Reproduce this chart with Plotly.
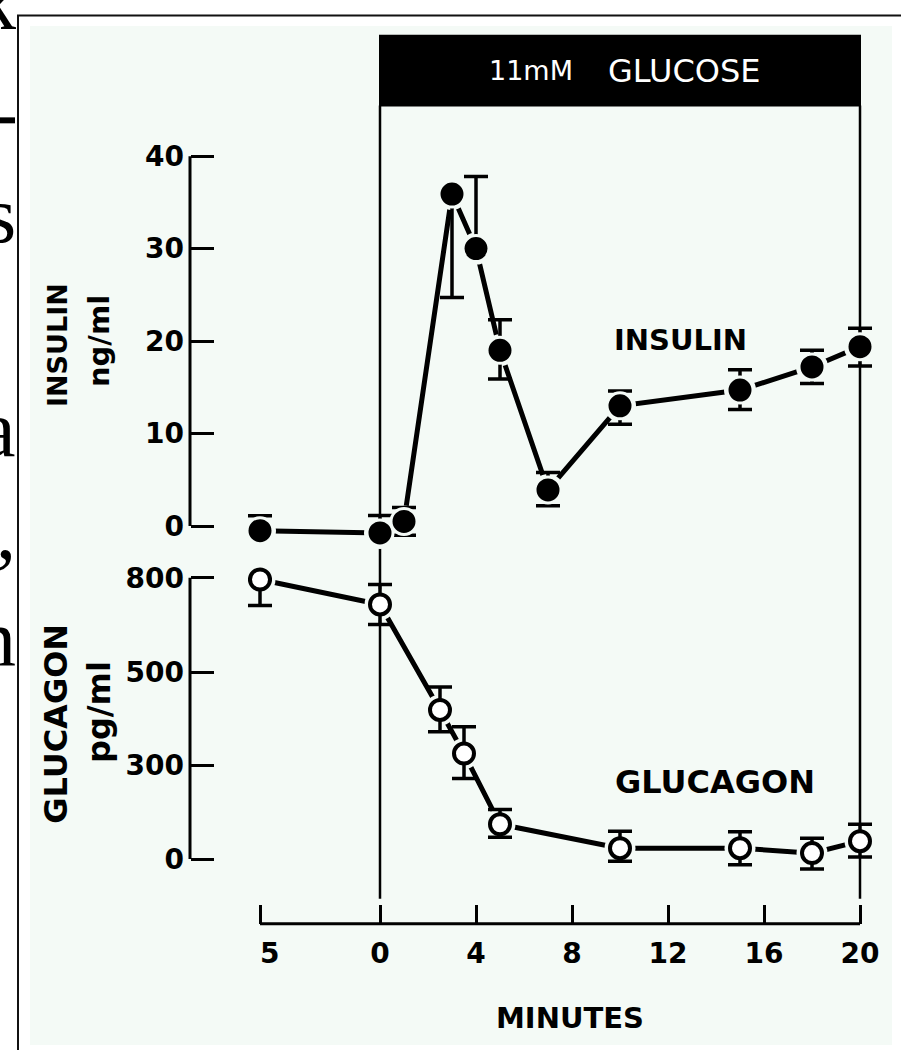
import plotly.graph_objects as go

W, H = 901, 1050

# ---------------- data ----------------
minutes_insulin = [-5, 0, 1, 3, 4, 5, 7, 10, 15, 18, 20]
insulin = [-0.5, -0.75, 0.5, 35.9, 30.0, 19.0, 3.9, 13.0, 14.7, 17.2, 19.4]
insulin_err_plus = [1.6, 1.9, 1.5, 0, 7.8, 3.3, 1.9, 1.6, 2.2, 1.8, 2.0]
insulin_err_minus = [0, 0, 1.5, 11.2, 0, 3.1, 1.7, 2.0, 2.1, 1.8, 2.1]

minutes_glucagon = [-5, 0, 2.5, 3.5, 5, 10, 15, 18, 20]
glucagon = [795, 724, 424, 300, 99, 31, 31, 17, 51]
glucagon_err_plus = [0, 57, 65, 76, 42, 48, 47, 42, 48]
glucagon_err_minus = [74, 57, 62, 71, 37, 37, 47, 45, 45]

x_tick_vals = [-5, 0, 4, 8, 12, 16, 20]
x_tick_text = ["\u20075", "0", "4", "8", "12", "16", "20"]
insulin_tick_vals = [0, 10, 20, 30, 40]
glucagon_tick_vals = [0, 266, 531, 800]
glucagon_tick_text = ["0", "300", "500", "800"]

glucose_period = [0, 20]

# ---------------- layout helpers ----------------
FONT = "DejaVu Sans"
TINT = "#f4faf6"


def fx(p):
    return p / W


def fy(p):
    return 1 - p / H


def domain(v0, p0, v1, p1, lo, hi, vertical):
    k = (p1 - p0) / (v1 - v0)
    a = p0 + (lo - v0) * k
    b = p0 + (hi - v0) * k
    if vertical:
        return sorted([fy(a), fy(b)])
    return sorted([fx(a), fx(b)])


X_RANGE = [-6.5, 21.5]
INS_RANGE = [-4, 43]
GLU_RANGE = [-90, 830]
x_dom = domain(-5, 260, 20, 860, X_RANGE[0], X_RANGE[1], False)
ins_dom = domain(0, 523, 40, 151, INS_RANGE[0], INS_RANGE[1], True)
glu_dom = domain(0, 858, 800, 575, GLU_RANGE[0], GLU_RANGE[1], True)

AXIS_X_PX = 190
XAXIS_Y_PX = 923

fig = go.Figure()

# connecting lines
fig.add_trace(go.Scatter(x=minutes_insulin, y=insulin, mode="lines",
                         line=dict(color="black", width=5), yaxis="y",
                         hoverinfo="skip"))
fig.add_trace(go.Scatter(x=minutes_glucagon, y=glucagon, mode="lines",
                         line=dict(color="black", width=5), yaxis="y2",
                         hoverinfo="skip"))
# pale halos around markers
fig.add_trace(go.Scatter(x=minutes_insulin, y=insulin, mode="markers",
                         marker=dict(color=TINT, size=32), yaxis="y",
                         cliponaxis=False, hoverinfo="skip"))
fig.add_trace(go.Scatter(x=minutes_glucagon, y=glucagon, mode="markers",
                         marker=dict(color=TINT, size=31), yaxis="y2",
                         cliponaxis=False, hoverinfo="skip"))
# markers with error bars
fig.add_trace(go.Scatter(
    x=minutes_insulin, y=insulin, mode="markers", yaxis="y", name="INSULIN",
    marker=dict(color="black", size=26, line=dict(color=TINT, width=3)),
    error_y=dict(type="data", symmetric=False, array=insulin_err_plus,
                 arrayminus=insulin_err_minus, color="black", thickness=3.5,
                 width=12),
    cliponaxis=False))
fig.add_trace(go.Scatter(
    x=minutes_glucagon, y=glucagon, mode="markers", yaxis="y2", name="GLUCAGON",
    marker=dict(color="white", size=20, line=dict(color="black", width=4)),
    error_y=dict(type="data", symmetric=False, array=glucagon_err_plus,
                 arrayminus=glucagon_err_minus, color="black", thickness=3.5,
                 width=12),
    cliponaxis=False))

tickfont = dict(family=FONT, size=28, color="black", weight="bold")

fig.update_layout(
    width=W, height=H,
    margin=dict(l=0, r=0, t=0, b=0),
    paper_bgcolor="white",
    plot_bgcolor="rgba(0,0,0,0)",
    showlegend=False,
    xaxis=dict(domain=x_dom, range=X_RANGE, anchor="free",
               position=fy(XAXIS_Y_PX), showgrid=False, zeroline=False,
               showline=False, ticks="inside", ticklen=19, tickwidth=3,
               tickcolor="black", tickvals=x_tick_vals, ticktext=x_tick_text,
               tickfont=tickfont, ticklabelstandoff=10),
    yaxis=dict(domain=ins_dom, range=INS_RANGE, anchor="free",
               position=fx(AXIS_X_PX), showgrid=False, zeroline=False,
               showline=False, ticks="inside", ticklen=23, tickwidth=3,
               tickcolor="black", tickvals=insulin_tick_vals,
               tickfont=tickfont, ticklabelstandoff=6),
    yaxis2=dict(domain=glu_dom, range=GLU_RANGE, anchor="free",
                position=fx(AXIS_X_PX), showgrid=False, zeroline=False,
                showline=False, ticks="inside", ticklen=23, tickwidth=3,
                tickcolor="black", tickvals=glucagon_tick_vals,
                ticktext=glucagon_tick_text, tickfont=tickfont,
                ticklabelstandoff=6),
)

shapes = []
# tinted page area and frame
shapes.append(dict(type="rect", xref="paper", yref="paper", x0=fx(30), x1=fx(892),
                   y0=fy(1045), y1=fy(20), fillcolor=TINT,
                   line=dict(width=0), layer="below"))
shapes.append(dict(type="rect", xref="paper", yref="paper", x0=fx(18), x1=1.05,
                   y0=-0.05, y1=fy(9.5), line=dict(color="#111", width=2),
                   fillcolor="rgba(0,0,0,0)", layer="below"))
shapes.append(dict(type="rect", xref="paper", yref="paper", x0=0, x1=fx(15),
                   y0=fy(118), y1=fy(112), fillcolor="black",
                   line=dict(width=0)))
# glucose bar and period lines
shapes.append(dict(type="rect", xref="x", yref="paper", x0=glucose_period[0],
                   x1=glucose_period[1], y0=fy(100), y1=fy(30),
                   fillcolor="black", line=dict(color="black", width=2),
                   layer="below"))
for xv in glucose_period:
    shapes.append(dict(type="line", xref="x", yref="paper", x0=xv, x1=xv,
                       y0=fy(898), y1=fy(100), line=dict(color="black", width=2.5),
                       layer="below"))
# axis lines
shapes.append(dict(type="line", xref="paper", yref="y", x0=fx(AXIS_X_PX),
                   x1=fx(AXIS_X_PX), y0=insulin_tick_vals[0],
                   y1=insulin_tick_vals[-1], line=dict(color="black", width=3),
                   layer="below"))
shapes.append(dict(type="line", xref="paper", yref="y2", x0=fx(AXIS_X_PX),
                   x1=fx(AXIS_X_PX), y0=glucagon_tick_vals[0],
                   y1=glucagon_tick_vals[-1], line=dict(color="black", width=3),
                   layer="below"))
shapes.append(dict(type="line", xref="x", yref="paper", x0=x_tick_vals[0],
                   x1=x_tick_vals[-1], y0=fy(XAXIS_Y_PX), y1=fy(XAXIS_Y_PX),
                   line=dict(color="black", width=3), layer="below"))
fig.update_layout(shapes=shapes)

annotations = []


def label(text, xpx, ypx, size, angle=0, color="black", weight="bold",
          family=FONT, xanchor="center"):
    annotations.append(dict(text=text, xref="paper", yref="paper", x=fx(xpx),
                            y=fy(ypx), xanchor=xanchor, yanchor="middle",
                            showarrow=False, textangle=angle,
                            font=dict(family=family, size=size, color=color,
                                      weight=weight)))


label("11mM", 531, 65, 27, color="white", weight="normal")
label("GLUCOSE", 684, 65, 32, color="white", weight="normal")
label("INSULIN", 57, 341, 27, angle=-90)
label("ng/ml", 99, 337, 29, angle=-90)
label("GLUCAGON", 56, 722, 32, angle=-90)
label("pg/ml", 99, 710, 32, angle=-90)
label("INSULIN", 680, 336, 29)
label("GLUCAGON", 715, 780, 32)
label("MINUTES", 570, 1018, 29)
# fragments of the neighbouring page text
for ch, base in [("k", 23), ("s", 237), ("a", 452), (",", 555), ("n", 663)]:
    label(ch, 18, base - 27, 80, weight="normal", family="Liberation Serif",
          xanchor="right")

fig.update_layout(annotations=annotations)

fig.write_html(
    "out.html",
    config={"displayModeBar": False},
    post_script="document.body.style.margin='0';document.body.style.overflow='hidden';",
)
